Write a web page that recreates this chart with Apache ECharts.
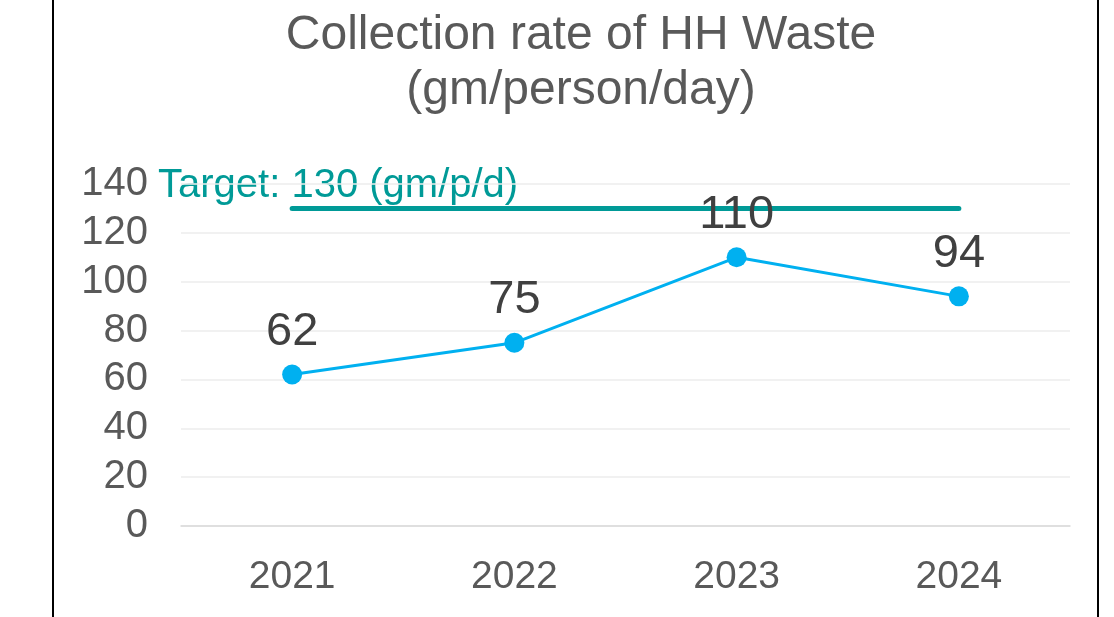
<!DOCTYPE html>
<html><head><meta charset="utf-8">
<script src="https://cdn.jsdelivr.net/npm/echarts@6/dist/echarts.min.js"></script>
<style>html,body{margin:0;padding:0;background:#fff}#c{width:1114px;height:617px}</style>
</head><body><div id="c"></div>
<script>
const categories = ['2021', '2022', '2023', '2024'];
const collectionRate = [62, 75, 110, 94];
const targetValue = 130;
const targetSeries = categories.map(() => targetValue);
const yTicks = [0, 20, 40, 60, 80, 100, 120, 140];

const chart = echarts.init(document.getElementById('c'));
const font = 'Liberation Sans, Arial, sans-serif';
chart.setOption({
  animation: false,
  backgroundColor: '#fff',
  title: {
    text: 'Collection rate of HH Waste\n(gm/person/day)',
    left: 576, top: 3, textAlign: 'center',
    textStyle: { fontFamily: font, fontSize: 48, fontWeight: 'normal', color: '#595959', lineHeight: 55 }
  },
  grid: { left: 181, right: 44, top: 184, bottom: 91 },
  xAxis: {
    type: 'category', data: categories, boundaryGap: true,
    axisLine: { show: true, lineStyle: { color: '#d9d9d9', width: 1.5 } },
    axisTick: { show: false },
    axisLabel: { fontFamily: font, fontSize: 39, color: '#595959', margin: 32 }
  },
  yAxis: {
    type: 'value', min: 0, max: 140, interval: 20,
    axisLine: { show: false }, axisTick: { show: false },
    splitLine: { lineStyle: { color: '#ececec', width: 1.5 } },
    axisLabel: { fontFamily: font, fontSize: 40, color: '#595959', margin: 33,
      formatter: v => yTicks.includes(v) ? String(v) : '' }
  },
  graphic: [
    { type: 'line', shape: { x1: 53, y1: 0, x2: 53, y2: 617 }, style: { stroke: '#000', lineWidth: 2 } },
    { type: 'line', shape: { x1: 1098, y1: 0, x2: 1098, y2: 617 }, style: { stroke: '#000', lineWidth: 2 } },
    { type: 'text', left: 158, top: 166, style: { text: 'Target: ' + targetValue + ' (gm/p/d)', fontFamily: font, fontSize: 40, fill: '#009a97' } }
  ],
  series: [
    {
      type: 'line', data: targetSeries, symbol: 'none', z: 1,
      lineStyle: { color: '#009a97', width: 5, cap: 'round' }
    },
    {
      type: 'line', data: collectionRate, symbol: 'circle', symbolSize: 20, z: 3,
      lineStyle: { color: '#00b0f0', width: 3 },
      itemStyle: { color: '#00b0f0' },
      label: { show: true, position: 'top', distance: 9, fontFamily: font, fontSize: 47, color: '#404040' }
    }
  ]
});
</script></body></html>
